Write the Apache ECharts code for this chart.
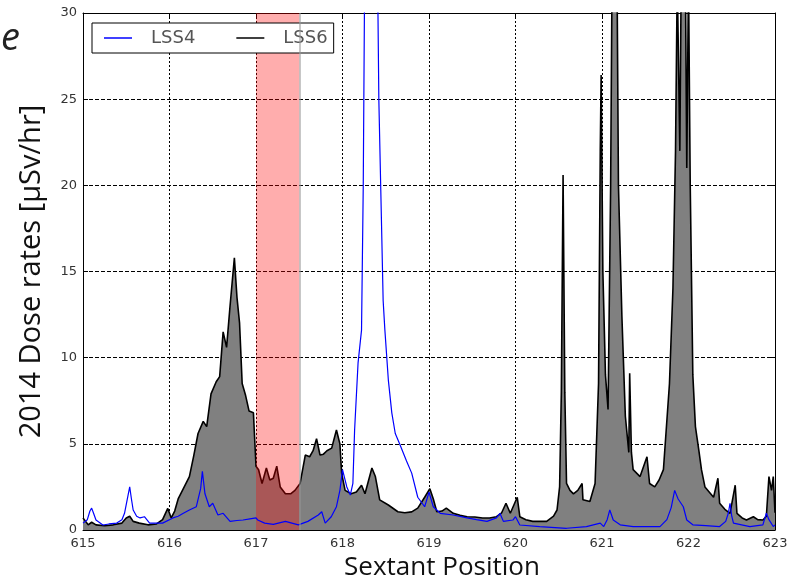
<!DOCTYPE html>
<html>
<head>
<meta charset="utf-8">
<script src="https://cdn.jsdelivr.net/npm/echarts@6/dist/echarts.min.js"></script>
<style>html,body{margin:0;padding:0;background:#fff}#c{width:792px;height:583px}</style>
</head>
<body>
<div id="c"></div>
<script>
// ---- data ----
const xTicks = [615, 616, 617, 618, 619, 620, 621, 622, 623];
const yTicks = [0, 5, 10, 15, 20, 25, 30];
const bandX = [617, 617.5];
const bandTop = [30, 30];

const lss6X = [615.00,615.03,615.06,615.10,615.15,615.25,615.35,615.45,615.50,615.54,615.58,615.65,615.75,615.85,615.92,615.98,616.02,616.06,616.10,616.16,616.23,616.28,616.33,616.39,616.43,616.48,616.54,616.58,616.62,616.66,616.70,616.75,616.78,616.81,616.84,616.88,616.92,616.97,617.00,617.03,617.07,617.12,617.16,617.20,617.24,617.28,617.34,617.40,617.45,617.51,617.57,617.62,617.66,617.70,617.74,617.78,617.82,617.875,617.93,617.97,617.99,618.03,618.10,618.16,618.22,618.26,618.34,618.38,618.43,618.53,618.64,618.72,618.80,618.87,618.95,619.01,619.05,619.09,619.15,619.20,619.28,619.36,619.44,619.53,619.62,619.70,619.78,619.84,619.89,619.94,620.02,620.05,620.12,620.20,620.36,620.44,620.48,620.51,620.53,620.55,620.57,620.59,620.63,620.67,620.72,620.77,620.78,620.86,620.92,620.96,620.98,620.99,621.01,621.04,621.07,621.10,621.12,621.17,621.19,621.23,621.27,621.31,621.32,621.34,621.36,621.44,621.52,621.55,621.61,621.66,621.71,621.78,621.82,621.85,621.87,621.90,621.92,621.96,621.98,622.00,622.02,622.05,622.08,622.10,622.12,622.15,622.19,622.29,622.34,622.36,622.42,622.48,622.54,622.56,622.62,622.67,622.75,622.80,622.86,622.90,622.93,622.96,622.98,623.00];
const lss6Y = [0.7,0.5,0.3,0.45,0.3,0.25,0.3,0.4,0.7,0.8,0.5,0.4,0.3,0.35,0.6,1.25,0.7,1.1,1.8,2.4,3.1,4.3,5.6,6.3,6.0,7.9,8.6,8.9,11.5,10.6,13.0,15.8,13.5,12.0,8.5,7.8,6.9,6.8,3.7,3.5,2.7,3.6,2.9,3.0,3.7,2.5,2.1,2.1,2.3,2.7,4.35,4.25,4.6,5.3,4.35,4.4,4.6,4.75,5.8,5.0,3.3,2.3,2.1,2.2,2.6,2.1,3.6,3.1,1.75,1.45,1.06,1.0,1.05,1.27,1.9,2.4,1.8,1.06,1.1,1.27,0.97,0.85,0.77,0.75,0.7,0.7,0.77,1.0,1.55,0.97,1.9,0.77,0.6,0.5,0.5,0.8,1.16,2.5,8,20.6,8,2.7,2.3,2.1,2.3,2.7,1.75,1.65,2.7,8.5,22,26.4,15,9,7,20,35,35,20,12.4,6.6,4.5,9.1,4.5,3.5,3.1,4.25,2.7,2.5,2.9,3.5,8.5,14,22,32,22,35,35,21,32,20,9,6,5.3,4.6,3.5,2.5,1.9,3.0,1.55,1.2,0.97,2.6,0.97,0.7,0.58,0.77,0.6,0.58,0.8,3.1,2.3,3.1,1.0];

const lss4X = [615.00,615.05,615.08,615.10,615.12,615.15,615.23,615.30,615.39,615.45,615.48,615.52,615.54,615.56,615.58,615.62,615.66,615.71,615.77,615.85,615.92,616.04,616.10,616.16,616.23,616.31,616.36,616.38,616.41,616.46,616.50,616.56,616.62,616.70,616.78,616.85,616.93,617.00,617.02,617.10,617.20,617.34,617.49,617.60,617.72,617.76,617.80,617.87,617.93,617.97,618.00,618.05,618.09,618.12,618.14,618.18,618.22,618.24,618.26,618.40,618.42,618.45,618.47,618.49,618.53,618.57,618.61,618.66,618.74,618.80,618.87,618.95,619.00,619.05,619.13,619.28,619.44,619.55,619.67,619.78,619.82,619.86,619.97,620.00,620.05,620.28,620.59,620.82,620.98,621.02,621.06,621.09,621.13,621.21,621.36,621.50,621.67,621.75,621.80,621.84,621.88,621.90,621.94,621.98,622.05,622.20,622.36,622.43,622.46,622.48,622.50,622.52,622.71,622.86,622.90,622.93,622.98,623.00];
const lss4Y = [0.4,0.6,1.1,1.27,1.0,0.58,0.29,0.35,0.4,0.6,0.97,2.0,2.5,1.8,1.16,0.8,0.7,0.77,0.4,0.4,0.4,0.7,0.8,0.97,1.16,1.35,2.4,3.4,2.1,1.35,1.55,0.87,0.97,0.5,0.55,0.58,0.65,0.7,0.58,0.4,0.33,0.5,0.3,0.5,0.87,1.06,0.4,0.77,1.35,2.3,3.5,2.5,2.03,2.7,5.8,9.7,11.6,20,35,35,25,18,13.3,11.6,8.7,6.8,5.6,5.0,4.0,3.3,1.9,1.35,2.2,1.35,0.97,0.87,0.7,0.6,0.5,0.7,0.97,0.5,0.58,0.77,0.29,0.2,0.1,0.2,0.4,0.2,0.6,1.16,0.58,0.3,0.2,0.2,0.2,0.6,1.3,2.3,1.8,1.9,1.35,0.58,0.3,0.25,0.2,0.5,0.97,1.55,0.8,0.4,0.2,0.3,0.97,0.6,0.2,0.3];

const seriesNames = ['LSS4', 'LSS6'];
const titleText = 'e';
const xName = 'Sextant Position';
const yName = '2014 Dose rates [\u03BCSv/hr]';

// ---- chart ----
const zip = (xs, ys) => xs.map((x, i) => [x, ys[i]]);
const chart = echarts.init(document.getElementById('c'), null, {renderer: 'canvas'});
const tickFont = {color: '#333', fontSize: 13, fontFamily: 'DejaVu Sans'};
const baseX = {
  type: 'value', min: xTicks[0], max: xTicks[xTicks.length - 1], interval: 1,
  axisLine: {show: true, onZero: false, lineStyle: {color: '#000', width: 1}},
  axisTick: {show: true, inside: true, length: 5, lineStyle: {color: '#000'}},
};
const baseY = {
  type: 'value', min: yTicks[0], max: yTicks[yTicks.length - 1], interval: 5,
  axisLine: {show: true, onZero: false, lineStyle: {color: '#000', width: 1}},
  axisTick: {show: true, inside: true, length: 5, lineStyle: {color: '#000'}},
};
chart.setOption({
  animation: false,
  backgroundColor: '#fff',
  title: {text: titleText, left: -4, top: 15, textStyle: {fontFamily: 'Open Sans', fontStyle: 'italic', fontWeight: 'normal', fontSize: 38, color: '#222'}},
  grid: {left: 83, right: 17, top: 13, bottom: 53, containLabel: false, outerBoundsMode: 'none'},
  legend: {
    data: seriesNames, left: 92, top: 23, orient: 'horizontal',
    backgroundColor: '#fff', borderColor: '#000', borderWidth: 1,
    padding: [6, 6, 6, 12], itemGap: 41, itemWidth: 28, itemHeight: 1.5, icon: 'rect',
    textStyle: {fontFamily: 'DejaVu Sans', fontSize: 18, color: '#555', padding: [0, 0, 0, 14]}
  },
  xAxis: [
    Object.assign({}, baseX, {
      position: 'bottom', name: xName, nameLocation: 'middle', nameGap: 21,
      nameTextStyle: {fontFamily: 'Open Sans', fontSize: 26, color: '#111', padding: [0, 0, 0, 26]},
      axisLabel: Object.assign({margin: 7}, tickFont),
      splitLine: {show: true, lineStyle: {color: '#000', type: [2, 2], width: 1}}
    }),
    Object.assign({}, baseX, {position: 'top', axisLabel: {show: false}, splitLine: {show: false}})
  ],
  yAxis: [
    Object.assign({}, baseY, {
      position: 'left', name: yName, nameLocation: 'middle', nameGap: 37,
      nameTextStyle: {fontFamily: 'Open Sans', fontSize: 29, color: '#111'},
      axisLabel: Object.assign({margin: 6}, tickFont),
      splitLine: {show: true, lineStyle: {color: '#000', type: [4, 2], width: 1}}
    }),
    Object.assign({}, baseY, {position: 'right', axisLabel: {show: false}, splitLine: {show: false}})
  ],
  series: [
    {
      name: seriesNames[1], type: 'line', data: zip(lss6X, lss6Y), showSymbol: false, symbol: 'none',
      z: 2, clip: true,
      itemStyle: {color: '#000'},
      lineStyle: {color: '#000', width: 1.6},
      areaStyle: {color: '#808080', opacity: 1}
    },
    {
      name: 'band', type: 'line', data: zip(bandX, bandTop), showSymbol: false, symbol: 'none',
      z: 3, silent: true,
      lineStyle: {width: 0, opacity: 0},
      areaStyle: {color: 'rgba(255,0,0,0.32)', opacity: 1},
      markLine: {
        silent: true, symbol: 'none', label: {show: false},
        lineStyle: {color: 'rgba(150,150,150,0.7)', type: 'solid', width: 1.5},
        data: [{xAxis: bandX[1]}]
      }
    },
    {
      name: seriesNames[0], type: 'line', data: zip(lss4X, lss4Y), showSymbol: false, symbol: 'none',
      z: 4, clip: true,
      itemStyle: {color: '#0000ff'},
      lineStyle: {color: '#0000ff', width: 1.2}
    }
  ]
});
</script>
</body>
</html>
